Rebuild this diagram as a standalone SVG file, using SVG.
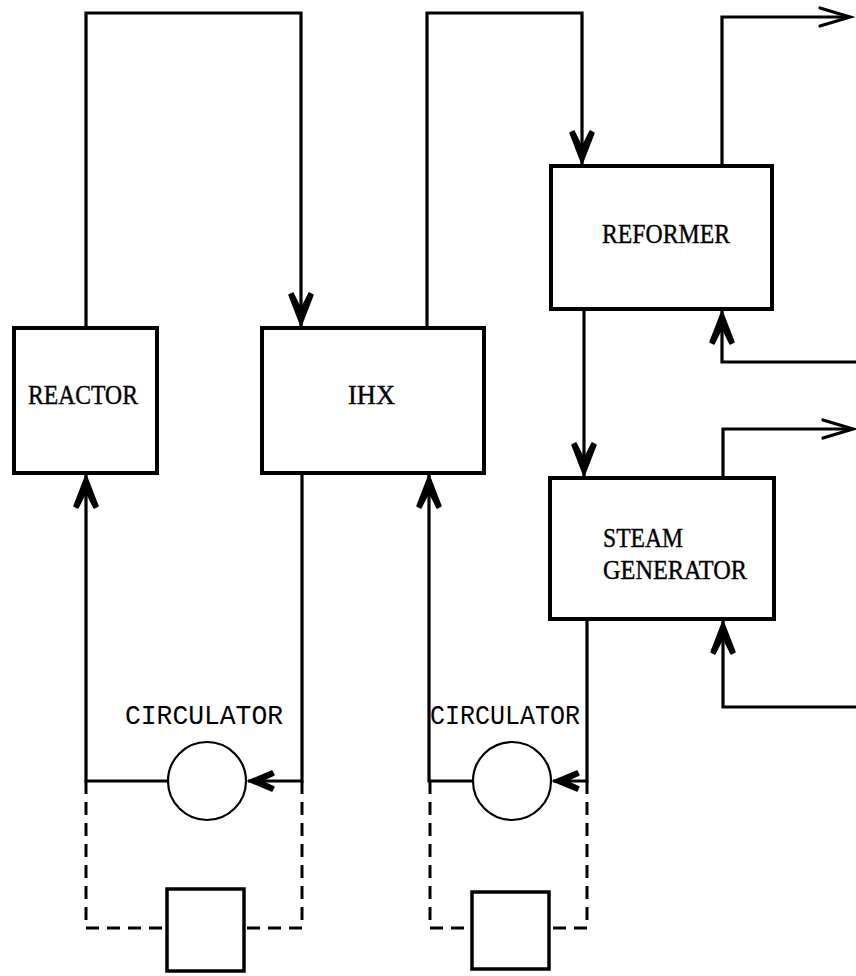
<svg xmlns="http://www.w3.org/2000/svg" width="856" height="976" viewBox="0 0 856 976">
  <style>
    .box { fill: #fff; stroke: #000; stroke-width: 4; stroke-linejoin: miter; }
    .aux { fill: #fff; stroke: #000; stroke-width: 3.5; }
    .pump { fill: #fff; stroke: #000; stroke-width: 2.2; }
    .flow { fill: none; stroke: #000; stroke-width: 3.2; stroke-linejoin: miter; }
    .ctrl { fill: none; stroke: #000; stroke-width: 3; stroke-dasharray: 13 8; }
    .lbl { font-family: "Liberation Serif", "DejaVu Serif", serif; font-size: 27px; fill: #000; stroke: #000; stroke-width: 0.4; }
    .mono { font-family: "Liberation Mono", "DejaVu Sans Mono", monospace; font-size: 27px; fill: #000; }
  </style>
  <defs>
    <!-- barbed filled head, drawn pointing along +x with the tip at the origin -->
    <marker id="barb" markerUnits="userSpaceOnUse" viewBox="-36 -15 38 30" refX="0" refY="0" markerWidth="38" markerHeight="30" orient="auto" overflow="visible">
      <path d="M0,0 L-31,-12 L-33,-8 L-17,0 L-33,8 L-31,12 Z" fill="#000" stroke="#000" stroke-width="1.5" stroke-linejoin="round"/>
    </marker>
    <!-- smaller barbed head for the circulator inlets -->
    <marker id="barbS" markerUnits="userSpaceOnUse" viewBox="-28 -12 30 24" refX="0" refY="0" markerWidth="30" markerHeight="24" orient="auto" overflow="visible">
      <path d="M0,0 L-24,-10 L-26,-6 L-13,0 L-26,6 L-24,10 Z" fill="#000" stroke="#000" stroke-width="1.5" stroke-linejoin="round"/>
    </marker>
    <!-- open chevron for the outgoing process streams -->
    <marker id="open" markerUnits="userSpaceOnUse" viewBox="-34 -12 36 24" refX="0" refY="0" markerWidth="36" markerHeight="24" orient="auto" overflow="visible">
      <path d="M-30,-9 L0,0 L-30,9" fill="none" stroke="#000" stroke-width="3.2" stroke-linecap="round"/>
    </marker>
  </defs>

  <g id="connectors">
    <!-- primary loop: reactor -> IHX -> circulator -> reactor -->
    <path class="flow" d="M86,328 V13 H301 V326" marker-end="url(#barb)"/>
    <path class="flow" d="M302,473 V781 H248" marker-end="url(#barbS)"/>
    <path class="flow" d="M168,781 H86 V475" marker-end="url(#barb)"/>
    <!-- secondary loop: IHX -> reformer -> steam generator -> circulator -> IHX -->
    <path class="flow" d="M427,328 V13 H582 V164" marker-end="url(#barb)"/>
    <path class="flow" d="M584,309 V476" marker-end="url(#barb)"/>
    <path class="flow" d="M587,619 V781 H553" marker-end="url(#barbS)"/>
    <path class="flow" d="M473,781 H429 V475" marker-end="url(#barb)"/>
    <!-- process side streams -->
    <path class="flow" d="M722,166 V17 H850" marker-end="url(#open)"/>
    <path class="flow" d="M856,362 H722 V311" marker-end="url(#barb)"/>
    <path class="flow" d="M723,478 V429 H853" marker-end="url(#open)"/>
    <path class="flow" d="M856,707 H723 V621" marker-end="url(#barb)"/>
    <!-- circulator drive links (dashed) -->
    <path class="ctrl" d="M86,781 V928 H167"/>
    <path class="ctrl" d="M302,781 V928 H244"/>
    <path class="ctrl" d="M430,781 V928 H472"/>
    <path class="ctrl" d="M587,781 V928 H549"/>
  </g>

  <g id="reactor">
    <rect class="box" x="14" y="328" width="143" height="145"/>
    <text class="lbl" x="28" y="404" textLength="110" lengthAdjust="spacingAndGlyphs">REACTOR</text>
  </g>

  <g id="ihx">
    <rect class="box" x="262" y="328" width="222" height="145"/>
    <text class="lbl" x="348" y="404" textLength="47" lengthAdjust="spacingAndGlyphs">IHX</text>
  </g>

  <g id="reformer">
    <rect class="box" x="551" y="166" width="221" height="143"/>
    <text class="lbl" x="602" y="243" textLength="128" lengthAdjust="spacingAndGlyphs">REFORMER</text>
  </g>

  <g id="steam-generator">
    <rect class="box" x="550" y="478" width="224" height="141"/>
    <text class="lbl" x="603" y="547" textLength="80" lengthAdjust="spacingAndGlyphs">STEAM</text>
    <text class="lbl" x="603" y="579" textLength="144" lengthAdjust="spacingAndGlyphs">GENERATOR</text>
  </g>

  <g id="circulator-1">
    <circle class="pump" cx="207" cy="781" r="39"/>
    <text class="mono" x="125" y="724" textLength="158" lengthAdjust="spacingAndGlyphs">CIRCULATOR</text>
  </g>

  <g id="circulator-2">
    <circle class="pump" cx="512" cy="781" r="39"/>
    <text class="mono" x="430" y="724" textLength="150" lengthAdjust="spacingAndGlyphs">CIRCULATOR</text>
  </g>

  <g id="drive-1">
    <rect class="aux" x="167" y="889" width="77" height="82"/>
  </g>

  <g id="drive-2">
    <rect class="aux" x="472" y="892" width="77" height="77"/>
  </g>
</svg>
